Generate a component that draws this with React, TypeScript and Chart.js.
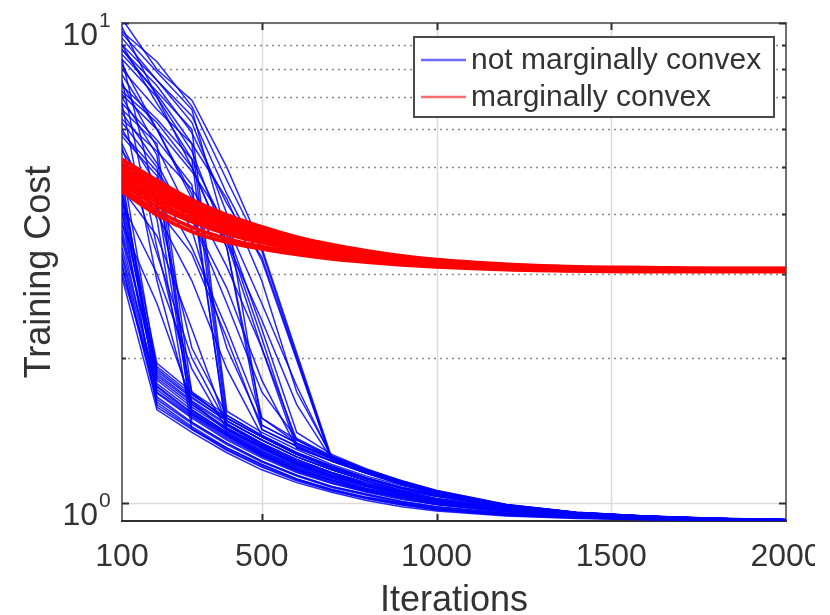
import React, { useEffect, useRef } from 'react';
import { Chart, registerables } from 'chart.js';

Chart.register(...registerables);

// ---------- data ----------
const ITER = [100, 200, 300, 400, 500, 600, 700, 800, 900, 1000, 1200, 1400, 1600, 1800, 2000];

const X_TICKS = [100, 500, 1000, 1500, 2000];
const X_GRID = [500, 1000, 1500];
const Y_MAJOR = [1, 10];
const Y_MINOR = [2, 3, 4, 5, 6, 7, 8, 9];
const Y_MIN = 0.915;
const Y_MAX = 10;

const SERIES_NAMES = ['not marginally convex', 'marginally convex'];
const X_TITLE = 'Iterations';
const Y_TITLE = 'Training Cost';

// "not marginally convex" runs (training cost at each ITER)
const BLUE_RUNS: number[][] = [
  [2.95, 1.56, 1.40, 1.27, 1.17, 1.10, 1.05, 1.01, 0.98, 0.96, 0.937, 0.926, 0.921, 0.919, 0.918],
  [3.10, 1.66, 1.47, 1.33, 1.22, 1.14, 1.08, 1.04, 1.005, 0.98, 0.95, 0.933, 0.925, 0.921, 0.919],
  [3.25, 1.62, 1.44, 1.30, 1.20, 1.12, 1.065, 1.025, 0.995, 0.97, 0.944, 0.93, 0.923, 0.92, 0.918],
  [3.40, 1.74, 1.53, 1.38, 1.26, 1.17, 1.11, 1.06, 1.025, 0.995, 0.96, 0.94, 0.928, 0.922, 0.92],
  [3.55, 1.69, 1.50, 1.35, 1.24, 1.155, 1.095, 1.05, 1.015, 0.99, 0.955, 0.936, 0.927, 0.922, 0.919],
  [3.70, 1.82, 1.60, 1.43, 1.31, 1.21, 1.14, 1.085, 1.045, 1.01, 0.97, 0.945, 0.931, 0.924, 0.92],
  [3.85, 1.77, 1.56, 1.40, 1.28, 1.19, 1.125, 1.07, 1.035, 1.0, 0.965, 0.942, 0.93, 0.923, 0.92],
  [4.00, 1.92, 1.68, 1.50, 1.37, 1.26, 1.18, 1.12, 1.07, 1.035, 0.98, 0.95, 0.934, 0.925, 0.921],
  [4.15, 1.86, 1.63, 1.46, 1.33, 1.23, 1.155, 1.10, 1.055, 1.02, 0.975, 0.947, 0.932, 0.924, 0.92],
  [4.30, 1.72, 1.52, 1.37, 1.25, 1.165, 1.10, 1.055, 1.02, 0.99, 0.957, 0.938, 0.927, 0.921, 0.919],
  [4.45, 1.95, 1.70, 1.52, 1.38, 1.27, 1.19, 1.125, 1.075, 1.04, 0.982, 0.951, 0.935, 0.926, 0.921],
  [4.60, 1.80, 1.58, 1.42, 1.30, 1.20, 1.135, 1.08, 1.04, 1.005, 0.968, 0.944, 0.93, 0.923, 0.92],
  [4.80, 1.64, 1.46, 1.32, 1.215, 1.135, 1.075, 1.035, 1.0, 0.975, 0.948, 0.932, 0.924, 0.92, 0.918],
  [5.05, 1.88, 1.65, 1.48, 1.35, 1.245, 1.17, 1.11, 1.06, 1.03, 0.978, 0.949, 0.933, 0.925, 0.921],
  [3.00, 1.75, 1.54, 1.39, 1.27, 1.18, 1.115, 1.065, 1.03, 1.0, 0.962, 0.941, 0.929, 0.922, 0.92],
  [4.05, 1.58, 1.42, 1.285, 1.185, 1.11, 1.058, 1.018, 0.988, 0.965, 0.94, 0.928, 0.922, 0.919, 0.918],
  [5.40, 4.30, 1.53, 1.38, 1.26, 1.17, 1.11, 1.06, 1.025, 0.995, 0.96, 0.94, 0.928, 0.922, 0.92],
  [5.80, 4.80, 1.60, 1.43, 1.31, 1.21, 1.14, 1.085, 1.045, 1.01, 0.97, 0.945, 0.931, 0.924, 0.92],
  [6.20, 5.00, 1.47, 1.33, 1.22, 1.14, 1.08, 1.04, 1.005, 0.98, 0.95, 0.933, 0.925, 0.921, 0.919],
  [6.60, 5.60, 1.68, 1.50, 1.37, 1.26, 1.18, 1.12, 1.07, 1.035, 0.98, 0.95, 0.934, 0.925, 0.921],
  [7.00, 5.30, 1.56, 1.40, 1.28, 1.19, 1.125, 1.07, 1.035, 1.0, 0.965, 0.942, 0.93, 0.923, 0.92],
  [5.60, 3.90, 1.42, 1.30, 1.20, 1.12, 1.065, 1.025, 0.995, 0.97, 0.944, 0.93, 0.923, 0.92, 0.918],
  [7.40, 6.30, 5.20, 1.45, 1.32, 1.22, 1.15, 1.09, 1.05, 1.015, 0.972, 0.946, 0.931, 0.924, 0.92],
  [8.00, 6.60, 5.60, 1.50, 1.37, 1.26, 1.18, 1.12, 1.07, 1.035, 0.98, 0.95, 0.934, 0.925, 0.921],
  [6.80, 5.70, 4.60, 1.38, 1.26, 1.17, 1.11, 1.06, 1.025, 0.995, 0.96, 0.94, 0.928, 0.922, 0.92],
  [8.60, 7.20, 6.00, 1.55, 1.40, 1.29, 1.20, 1.135, 1.085, 1.045, 0.985, 0.952, 0.935, 0.926, 0.921],
  [7.80, 6.00, 4.40, 1.42, 1.30, 1.20, 1.135, 1.08, 1.04, 1.005, 0.968, 0.944, 0.93, 0.923, 0.92],
  [9.00, 7.60, 6.20, 4.00, 1.45, 1.33, 1.24, 1.16, 1.10, 1.05, 0.985, 0.952, 0.936, 0.926, 0.921],
  [8.40, 7.00, 5.40, 3.50, 2.10, 1.30, 1.22, 1.15, 1.095, 1.045, 0.982, 0.951, 0.935, 0.925, 0.921],
  [9.50, 7.90, 6.60, 3.60, 2.20, 1.32, 1.23, 1.16, 1.10, 1.05, 0.985, 0.952, 0.936, 0.926, 0.921],
  [7.20, 6.20, 5.00, 3.40, 1.42, 1.31, 1.22, 1.15, 1.09, 1.045, 0.98, 0.95, 0.934, 0.925, 0.921],
  [9.60, 8.30, 6.70, 4.70, 3.35, 2.02, 1.23, 1.16, 1.10, 1.05, 0.985, 0.952, 0.936, 0.926, 0.921],
  [10.2, 8.00, 6.90, 5.00, 3.40, 2.05, 1.24, 1.165, 1.105, 1.055, 0.988, 0.953, 0.936, 0.926, 0.921],
  [9.30, 7.60, 6.40, 4.40, 3.20, 1.98, 1.22, 1.155, 1.095, 1.048, 0.984, 0.951, 0.935, 0.925, 0.921],
  [8.80, 7.40, 5.90, 4.20, 3.25, 2.00, 1.225, 1.158, 1.098, 1.05, 0.985, 0.952, 0.935, 0.925, 0.921],
  [4.50, 3.60, 2.30, 1.45, 1.32, 1.22, 1.15, 1.09, 1.05, 1.015, 0.972, 0.946, 0.931, 0.924, 0.92],
  [5.20, 4.00, 2.90, 1.90, 1.38, 1.27, 1.19, 1.125, 1.075, 1.04, 0.982, 0.951, 0.935, 0.926, 0.921],
  [6.00, 4.60, 3.40, 2.30, 1.50, 1.33, 1.235, 1.16, 1.10, 1.05, 0.985, 0.952, 0.936, 0.926, 0.921],
  [3.80, 2.60, 1.62, 1.41, 1.29, 1.20, 1.13, 1.08, 1.04, 1.005, 0.968, 0.944, 0.93, 0.923, 0.92],
  [4.20, 3.00, 1.90, 1.42, 1.30, 1.21, 1.14, 1.085, 1.045, 1.01, 0.97, 0.945, 0.931, 0.924, 0.92],
  [7.50, 5.50, 3.90, 2.60, 1.70, 1.36, 1.25, 1.17, 1.11, 1.06, 0.99, 0.954, 0.937, 0.927, 0.922],
  [8.20, 6.00, 4.30, 3.10, 2.10, 1.35, 1.24, 1.165, 1.105, 1.055, 0.988, 0.953, 0.936, 0.926, 0.921],
  [6.50, 5.10, 3.70, 2.10, 1.45, 1.33, 1.235, 1.16, 1.10, 1.05, 0.985, 0.952, 0.936, 0.926, 0.921],
  [9.00, 6.80, 5.20, 3.70, 2.30, 1.40, 1.26, 1.175, 1.11, 1.06, 0.99, 0.954, 0.937, 0.927, 0.922],
  [6.80, 2.90, 1.55, 1.39, 1.27, 1.18, 1.115, 1.065, 1.03, 1.0, 0.962, 0.941, 0.929, 0.922, 0.92],
  [7.60, 3.40, 1.70, 1.48, 1.35, 1.245, 1.17, 1.11, 1.06, 1.03, 0.978, 0.949, 0.933, 0.925, 0.921],
  [8.40, 4.20, 2.10, 1.52, 1.38, 1.27, 1.19, 1.125, 1.075, 1.04, 0.982, 0.951, 0.935, 0.926, 0.921],
  [5.50, 3.30, 2.00, 1.46, 1.33, 1.23, 1.155, 1.10, 1.055, 1.02, 0.975, 0.947, 0.932, 0.924, 0.92],
  [4.90, 4.10, 3.30, 2.20, 1.42, 1.31, 1.22, 1.15, 1.09, 1.045, 0.98, 0.95, 0.934, 0.925, 0.921],
  [5.90, 4.90, 3.90, 2.80, 1.80, 1.30, 1.22, 1.15, 1.095, 1.045, 0.982, 0.951, 0.935, 0.925, 0.921],
  [8.80, 7.10, 5.60, 4.30, 2.90, 1.70, 1.25, 1.17, 1.105, 1.055, 0.988, 0.953, 0.936, 0.926, 0.921],
  [3.30, 1.70, 1.51, 1.36, 1.25, 1.16, 1.10, 1.055, 1.02, 0.99, 0.957, 0.938, 0.927, 0.921, 0.919],
  [3.60, 1.90, 1.66, 1.48, 1.35, 1.245, 1.17, 1.11, 1.06, 1.03, 0.978, 0.949, 0.933, 0.925, 0.921],
  [4.40, 1.84, 1.62, 1.45, 1.32, 1.22, 1.15, 1.09, 1.05, 1.015, 0.972, 0.946, 0.931, 0.924, 0.92],
  [3.15, 1.60, 1.43, 1.29, 1.19, 1.115, 1.06, 1.02, 0.99, 0.967, 0.942, 0.929, 0.922, 0.919, 0.918],
  [6.30, 5.40, 4.50, 3.50, 2.40, 1.60, 1.23, 1.16, 1.10, 1.05, 0.985, 0.952, 0.936, 0.926, 0.921],
  [7.10, 6.00, 4.90, 3.80, 2.60, 1.75, 1.24, 1.165, 1.105, 1.055, 0.988, 0.953, 0.936, 0.926, 0.921],
  [9.80, 7.00, 5.00, 3.40, 1.50, 1.35, 1.245, 1.165, 1.105, 1.055, 0.988, 0.953, 0.936, 0.926, 0.921],
];

// "marginally convex" runs
const RED_RUNS: number[][] = [
  [5.20, 4.70, 4.28, 3.98, 3.76, 3.58, 3.45, 3.35, 3.27, 3.21, 3.14, 3.10, 3.09, 3.08, 3.08],
  [5.10, 4.62, 4.22, 3.93, 3.72, 3.55, 3.43, 3.33, 3.26, 3.20, 3.13, 3.095, 3.085, 3.075, 3.075],
  [5.00, 4.54, 4.16, 3.88, 3.68, 3.52, 3.40, 3.31, 3.24, 3.19, 3.12, 3.09, 3.08, 3.07, 3.07],
  [4.92, 4.46, 4.10, 3.83, 3.64, 3.49, 3.38, 3.29, 3.23, 3.18, 3.11, 3.085, 3.075, 3.065, 3.065],
  [4.84, 4.38, 4.04, 3.78, 3.60, 3.46, 3.35, 3.27, 3.21, 3.16, 3.10, 3.075, 3.065, 3.06, 3.06],
  [4.76, 4.31, 3.98, 3.73, 3.56, 3.43, 3.33, 3.26, 3.20, 3.15, 3.095, 3.07, 3.06, 3.055, 3.055],
  [4.68, 4.23, 3.91, 3.68, 3.52, 3.40, 3.31, 3.24, 3.18, 3.14, 3.085, 3.06, 3.05, 3.045, 3.045],
  [4.60, 4.15, 3.85, 3.63, 3.48, 3.37, 3.28, 3.22, 3.17, 3.13, 3.08, 3.055, 3.045, 3.04, 3.04],
  [4.52, 4.06, 3.75, 3.55, 3.42, 3.33, 3.25, 3.19, 3.15, 3.115, 3.07, 3.045, 3.035, 3.035, 3.035],
  [4.45, 3.98, 3.67, 3.49, 3.38, 3.29, 3.22, 3.17, 3.13, 3.10, 3.06, 3.04, 3.03, 3.03, 3.03],
];

const BLUE = 'rgba(0,0,255,0.85)';
const RED = '#ff0000';
const FONT = "'Liberation Sans', Arial, Helvetica, sans-serif";
const TEXT = '#333333';

const toPoints = (run: number[]) => run.map((v, i) => ({ x: ITER[i], y: v }));

const decorPlugin = {
  id: 'matlabDecor',
  beforeDatasetsDraw(chart: any) {
    const { ctx, chartArea: a, scales } = chart;
    const x = scales.x;
    const y = scales.y;
    ctx.save();
    ctx.strokeStyle = '#dcdcdc';
    ctx.lineWidth = 1.5;
    for (const v of X_GRID) {
      const px = Math.round(x.getPixelForValue(v)) + 0.5;
      ctx.beginPath(); ctx.moveTo(px, a.top); ctx.lineTo(px, a.bottom); ctx.stroke();
    }
    for (const v of Y_MAJOR) {
      const py = Math.round(y.getPixelForValue(v)) + 0.5;
      ctx.beginPath(); ctx.moveTo(a.left, py); ctx.lineTo(a.right, py); ctx.stroke();
    }
    ctx.strokeStyle = 'rgba(90,90,90,0.7)';
    ctx.lineWidth = 1.5;
    ctx.setLineDash([2, 4]);
    for (const v of Y_MINOR) {
      const py = Math.round(y.getPixelForValue(v)) + 0.5;
      ctx.beginPath(); ctx.moveTo(a.left, py); ctx.lineTo(a.right, py); ctx.stroke();
    }
    ctx.setLineDash([]);
    ctx.lineWidth = 2;
    ctx.strokeStyle = '#707070';
    ctx.beginPath();
    ctx.moveTo(a.left, a.bottom); ctx.lineTo(a.left, a.top); ctx.lineTo(a.right, a.top); ctx.lineTo(a.right, a.bottom);
    ctx.stroke();
    ctx.strokeStyle = '#303030';
    ctx.beginPath(); ctx.moveTo(a.left - 1, a.bottom); ctx.lineTo(a.right + 1, a.bottom); ctx.stroke();
    ctx.strokeStyle = '#303030';
    ctx.lineWidth = 2;
    for (const v of X_GRID) {
      const px = Math.round(x.getPixelForValue(v)) + 0.5;
      ctx.beginPath(); ctx.moveTo(px, a.bottom); ctx.lineTo(px, a.bottom - 7); ctx.stroke();
      ctx.beginPath(); ctx.moveTo(px, a.top); ctx.lineTo(px, a.top + 7); ctx.stroke();
    }
    for (const v of Y_MAJOR) {
      const py = Math.round(y.getPixelForValue(v)) + 0.5;
      ctx.beginPath(); ctx.moveTo(a.left, py); ctx.lineTo(a.left + 7, py); ctx.stroke();
      ctx.beginPath(); ctx.moveTo(a.right, py); ctx.lineTo(a.right - 7, py); ctx.stroke();
    }
    for (const v of Y_MINOR) {
      const py = Math.round(y.getPixelForValue(v)) + 0.5;
      ctx.beginPath(); ctx.moveTo(a.left, py); ctx.lineTo(a.left + 4, py); ctx.stroke();
      ctx.beginPath(); ctx.moveTo(a.right, py); ctx.lineTo(a.right - 4, py); ctx.stroke();
    }
    ctx.restore();
  },
  afterDraw(chart: any) {
    const { ctx, chartArea: a, scales } = chart;
    const x = scales.x;
    const y = scales.y;
    ctx.save();
    ctx.fillStyle = TEXT;
    ctx.font = `32px ${FONT}`;
    ctx.textAlign = 'center';
    ctx.textBaseline = 'alphabetic';
    for (const v of X_TICKS) {
      ctx.fillText(String(v), x.getPixelForValue(v), a.bottom + 45);
    }
    for (const v of Y_MAJOR) {
      const py = y.getPixelForValue(v);
      ctx.font = `32px ${FONT}`;
      ctx.textAlign = 'right';
      ctx.fillText('10', a.left - 24, py + 22);
      ctx.font = `21px ${FONT}`;
      ctx.textAlign = 'left';
      ctx.fillText(String(Math.round(Math.log10(v))), a.left - 23, py + 4);
    }
    ctx.font = `36px ${FONT}`;
    ctx.textAlign = 'center';
    ctx.fillText(X_TITLE, (a.left + a.right) / 2, a.bottom + 90);
    ctx.save();
    ctx.translate(42, (a.top + a.bottom) / 2);
    ctx.rotate(-Math.PI / 2);
    ctx.fillText(Y_TITLE, 0, 0);
    ctx.restore();
    const lx = 406, ly = 29, lw = 360, lh = 80;
    ctx.fillStyle = '#ffffff';
    ctx.fillRect(lx, ly, lw, lh);
    ctx.strokeStyle = '#4a4a4a';
    ctx.lineWidth = 2;
    ctx.strokeRect(lx, ly, lw, lh);
    const rows = [
      { name: SERIES_NAMES[0], color: 'rgba(60,60,255,0.75)', y: 52 },
      { name: SERIES_NAMES[1], color: 'rgba(255,60,60,0.75)', y: 89 },
    ];
    ctx.font = `30px ${FONT}`;
    ctx.textAlign = 'left';
    for (const r of rows) {
      ctx.strokeStyle = r.color;
      ctx.lineWidth = 2.5;
      ctx.beginPath(); ctx.moveTo(413, r.y); ctx.lineTo(458, r.y); ctx.stroke();
      ctx.fillStyle = TEXT;
      ctx.fillText(r.name, 463, r.y + 9);
    }
    ctx.restore();
  },
};

export default function App() {
  const ref = useRef<HTMLCanvasElement | null>(null);

  useEffect(() => {
    const canvas = ref.current;
    if (!canvas) return;
    const redSets = RED_RUNS.map((run, i) => ({
      label: i === 0 ? SERIES_NAMES[1] : '',
      data: toPoints(run),
      borderColor: RED,
      borderWidth: 3.6,
      cubicInterpolationMode: 'monotone' as const,
      pointRadius: 0,
    }));
    const blueSets = BLUE_RUNS.map((run, i) => ({
      label: i === 0 ? SERIES_NAMES[0] : '',
      data: toPoints(run),
      borderColor: BLUE,
      borderWidth: 1.5,
      tension: 0,
      pointRadius: 0,
    }));
    const chart = new Chart(canvas, {
      type: 'line',
      data: { datasets: [...redSets, ...blueSets] },
      options: {
        responsive: false,
        animation: false,
        devicePixelRatio: 1,
        layout: { padding: { left: 114, right: 29, top: 15, bottom: 94 } },
        plugins: { legend: { display: false }, tooltip: { enabled: false } },
        scales: {
          x: { type: 'linear', min: 100, max: 2000, display: false },
          y: { type: 'logarithmic', min: Y_MIN, max: Y_MAX, display: false },
        },
      },
      plugins: [decorPlugin],
    });
    return () => chart.destroy();
  }, []);

  return (
    <div style={{ width: 807, height: 607, overflow: 'hidden' }}>
      <canvas ref={ref} width={807} height={607} style={{ display: 'block' }} />
    </div>
  );
}
